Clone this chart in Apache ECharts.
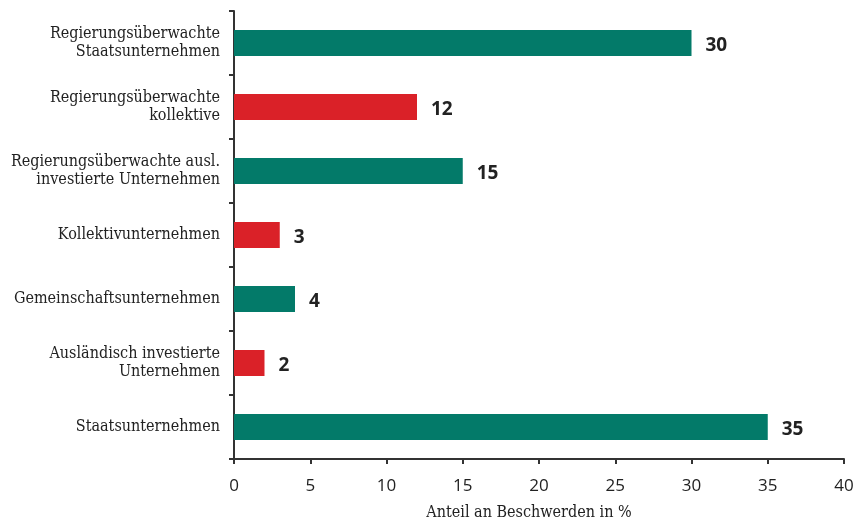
<!DOCTYPE html>
<html>
<head>
<meta charset="utf-8">
<script src="https://cdn.jsdelivr.net/npm/echarts@6/dist/echarts.min.js"></script>
<style>
  html, body { margin: 0; padding: 0; background: #fff; }
  #chart { width: 855px; height: 529px; }
</style>
</head>
<body>
<div id="chart"></div>
<script>
// Categories, top to bottom as displayed
const categories = [
  'Regierungsüberwachte\nStaatsunternehmen',
  'Regierungsüberwachte\nkollektive',
  'Regierungsüberwachte ausl.\ninvestierte Unternehmen',
  'Kollektivunternehmen',
  'Gemeinschaftsunternehmen',
  'Ausländisch investierte\nUnternehmen',
  'Staatsunternehmen'
];
const values = [30, 12, 15, 3, 4, 2, 35];
const colorGroups = ['green', 'red', 'green', 'red', 'green', 'red', 'green'];
const xTicks = [0, 5, 10, 15, 20, 25, 30, 35, 40];
const axisName = 'Anteil an Beschwerden in %';

const palette = { green: '#037A69', red: '#DA2128' };
const serifFont = '"DejaVu Serif Condensed", "DejaVu Serif", serif';
const sansFont = '"Open Sans", "Noto Sans", sans-serif';

const chart = echarts.init(document.getElementById('chart'), null, { renderer: 'canvas' });
chart.setOption({
  animation: false,
  grid: { left: 234, right: 11, top: 11, bottom: 70, containLabel: false, outerBoundsMode: 'none' },
  xAxis: {
    type: 'value',
    min: xTicks[0],
    max: xTicks[xTicks.length - 1],
    interval: 5,
    name: axisName,
    nameLocation: 'middle',
    nameGap: 46,
    nameTextStyle: { fontFamily: serifFont, fontSize: 16, color: '#222', padding: [0, 20, 0, 0] },
    axisLine: { show: true, lineStyle: { color: '#333', width: 2 } },
    axisTick: { show: true, inside: false, length: 5, lineStyle: { color: '#333', width: 2 } },
    axisLabel: { fontFamily: sansFont, fontSize: 17, color: '#222', margin: 19 },
    splitLine: { show: false }
  },
  yAxis: {
    type: 'category',
    inverse: true,
    data: categories,
    axisLine: { show: true, lineStyle: { color: '#333', width: 2 } },
    axisTick: { show: true, length: 5, lineStyle: { color: '#333', width: 2 } },
    axisLabel: {
      fontFamily: serifFont, fontSize: 16, color: '#222', margin: 14,
      lineHeight: 18, align: 'right'
    }
  },
  series: [{
    type: 'bar',
    data: values.map((v, i) => ({ value: v, itemStyle: { color: palette[colorGroups[i]] } })),
    barWidth: 26,
    label: {
      show: true,
      position: 'right',
      distance: 14,
      offset: [0, 3],
      fontFamily: '"Noto Sans", "DejaVu Sans", sans-serif',
      fontWeight: 'bold',
      fontSize: 19,
      color: '#222'
    }
  }]
});
</script>
</body>
</html>
